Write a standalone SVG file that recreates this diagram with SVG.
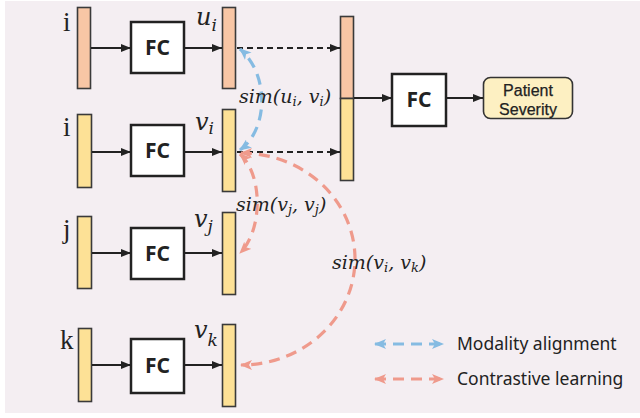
<svg xmlns="http://www.w3.org/2000/svg" width="640" height="418" viewBox="0 0 640 418">
<defs>
<style>
.bg{fill:#f4eef2}
.peach{fill:#f8c6a5;stroke:#3a3a3a;stroke-width:1.6}
.yel{fill:#fde196;stroke:#3a3a3a;stroke-width:1.6}
.fc{fill:#ffffff;stroke:#222;stroke-width:2.5}
.fct{font-family:"Noto Sans","DejaVu Sans",sans-serif;font-weight:bold;font-size:21px;fill:#222;text-anchor:middle}
.lab{font-family:"Liberation Serif","DejaVu Serif",serif;font-size:27px;fill:#222}
.math{font-family:"DejaVu Serif","Liberation Serif",serif;font-style:italic;fill:#222}
.big{font-size:24px}
.sim{font-size:19px}
.leg{font-family:"Noto Sans","DejaVu Sans",sans-serif;font-size:17.5px;fill:#222}
.pt{font-family:"Liberation Sans",Arial,sans-serif;font-size:16px;fill:#222;text-anchor:middle;stroke:#222;stroke-width:0.25}
.sol{stroke:#222;stroke-width:2;fill:none;marker-end:url(#ab)}
.dsh{stroke:#222;stroke-width:2;fill:none;stroke-dasharray:6 4;marker-end:url(#ab)}
.blue{stroke:#85bbe2;stroke-width:3.2;fill:none;stroke-dasharray:11 7;marker-start:url(#abl);marker-end:url(#abl)}
.red{stroke:#ef9a8c;stroke-width:3.2;fill:none;stroke-dasharray:11 7;marker-start:url(#ar);marker-end:url(#ar)}
</style>
<marker id="ab" viewBox="0 0 10 8" refX="10" refY="4" markerWidth="10" markerHeight="8" markerUnits="userSpaceOnUse" orient="auto"><path d="M0,0 L10,4 L0,8 z" fill="#222"/></marker>
<marker id="abl" viewBox="0 0 12 10" refX="11" refY="5" markerWidth="12" markerHeight="10" markerUnits="userSpaceOnUse" orient="auto-start-reverse"><path d="M0,0 L12,5 L0,10 L3,5 z" fill="#85bbe2"/></marker>
<marker id="ar" viewBox="0 0 12 10" refX="11" refY="5" markerWidth="12" markerHeight="10" markerUnits="userSpaceOnUse" orient="auto-start-reverse"><path d="M0,0 L12,5 L0,10 L3,5 z" fill="#ef9a8c"/></marker>
</defs>
<rect class="bg" x="5" y="1" width="635" height="412"/>

<g id="row1">
<text class="lab" x="63" y="31">i</text>
<rect class="peach" x="77.5" y="7.5" width="13" height="81"/>
<rect class="fc" x="131" y="22" width="53" height="51"/>
<text class="fct" x="157.5" y="55">FC</text>
<rect class="peach" x="222.5" y="7.5" width="13" height="81"/>
<text class="math big" x="196" y="25">u<tspan font-size="17" dy="6">i</tspan></text>
</g>

<g id="row2">
<text class="lab" x="63" y="136">i</text>
<rect class="yel" x="77.5" y="114.5" width="14" height="73"/>
<rect class="fc" x="131" y="125" width="53" height="51"/>
<text class="fct" x="157.5" y="158">FC</text>
<rect class="yel" x="222.5" y="109.5" width="13" height="82"/>
<text class="math big" x="195" y="130">v<tspan font-size="17" dy="4">i</tspan></text>
</g>

<g id="row3">
<text class="lab" x="63" y="238">j</text>
<rect class="yel" x="77.5" y="216.5" width="14" height="72"/>
<rect class="fc" x="131" y="228" width="53" height="51"/>
<text class="fct" x="157.5" y="261">FC</text>
<rect class="yel" x="222.5" y="212.5" width="13" height="82"/>
<text class="math big" x="194" y="227">v<tspan font-size="17" dy="5">j</tspan></text>
</g>

<g id="row4">
<text class="lab" x="60" y="349">k</text>
<rect class="yel" x="78.5" y="328.5" width="13" height="73"/>
<rect class="fc" x="131" y="339" width="53" height="54"/>
<text class="fct" x="157.5" y="373">FC</text>
<rect class="yel" x="222.5" y="324.5" width="13" height="82"/>
<text class="math big" x="194" y="338">v<tspan font-size="17" dy="8">k</tspan></text>
</g>

<g id="concat">
<rect class="peach" x="340.5" y="16.5" width="13" height="82"/>
<rect class="yel" x="340.5" y="98.5" width="13" height="82"/>
</g>

<g id="fc-main">
<rect class="fc" x="392" y="74" width="54" height="52"/>
<text class="fct" x="419" y="107">FC</text>
</g>

<g id="patient">
<rect x="483.5" y="77.5" width="89" height="41" rx="7" fill="#fdf0c2" stroke="#333" stroke-width="1.6"/>
<text class="pt" x="528" y="95.5">Patient</text>
<text class="pt" x="528" y="115">Severity</text>
</g>

<g id="connectors">
<line class="sol" x1="91" y1="48" x2="131" y2="48"/>
<line class="sol" x1="184" y1="48" x2="222" y2="48"/>
<line class="sol" x1="92" y1="152" x2="131" y2="152"/>
<line class="sol" x1="184" y1="152" x2="222" y2="152"/>
<line class="sol" x1="92" y1="253" x2="131" y2="253"/>
<line class="sol" x1="184" y1="253" x2="222" y2="253"/>
<line class="sol" x1="92" y1="365" x2="131" y2="365"/>
<line class="sol" x1="184" y1="365" x2="222" y2="365"/>
<line class="dsh" x1="237" y1="48" x2="340" y2="48"/>
<line class="dsh" x1="237" y1="152" x2="340" y2="152"/>
<line class="sol" x1="354" y1="98" x2="392" y2="98"/>
<line class="sol" x1="446" y1="98" x2="483" y2="98"/>
<path class="blue" d="M240,150 C268,130 270,75 240,49"/>
<path class="red" d="M240,154 C263,175 263,230 240,253"/>
<path class="red" d="M241,153 A114 106 0 0 1 241,365"/>
</g>

<g id="labels">
<text class="math sim" x="239" y="103">sim(u<tspan font-size="13" dy="3">i</tspan><tspan dy="-3">, v</tspan><tspan font-size="13" dy="3">i</tspan><tspan dy="-3">)</tspan></text>
<text class="math sim" x="236" y="211">sim(v<tspan font-size="13" dy="3">j</tspan><tspan dy="-3">, v</tspan><tspan font-size="13" dy="3">j</tspan><tspan dy="-3">)</tspan></text>
<text class="math sim" x="332" y="269">sim(v<tspan font-size="13" dy="3">i</tspan><tspan dy="-3">, v</tspan><tspan font-size="13" dy="3">k</tspan><tspan dy="-3">)</tspan></text>
</g>

<g id="legend">
<line class="blue" x1="375" y1="344" x2="443" y2="344"/>
<line class="red" x1="375" y1="379" x2="443" y2="379"/>
<text class="leg" x="457" y="350">Modality alignment</text>
<text class="leg" x="457" y="385">Contrastive learning</text>
</g>
</svg>
